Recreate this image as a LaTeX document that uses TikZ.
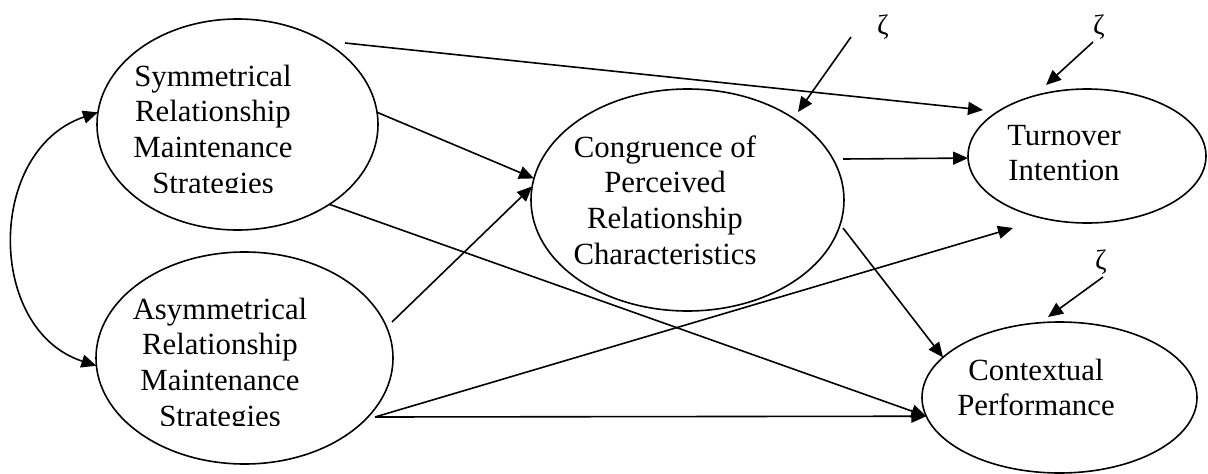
\documentclass[tikz,border=0pt]{standalone}
\usepackage{fontspec}
\setmainfont{Liberation Serif}
\usetikzlibrary{shapes.geometric,arrows.meta}
\begin{document}
\begin{tikzpicture}[x=1pt,y=-1pt,
  every node/.style={inner sep=0pt, outer sep=0pt},
  lv/.style={ellipse, draw, line width=1.6pt},
  txt/.style={font=\fontsize{30.8}{35.8}\selectfont, anchor=base},
  zeta/.style={font=\fontsize{28}{30}\selectfont},
  tip/.tip={Triangle[length=15pt,width=13pt]},
  arr/.style={line width=1.6pt, -tip},
  bi/.style={line width=1.6pt, tip-tip}]
\path[fill=white, use as bounding box] (0,0) rectangle (1208,474);

% latent variables
\node[lv, minimum width=281pt, minimum height=211pt] (sym) at (237.5,124.5) {};
\node[lv, minimum width=297pt, minimum height=212pt] (asym) at (244.5,358) {};
\node[lv, minimum width=313pt, minimum height=222pt] (cong) at (687.5,200) {};
\node[lv, minimum width=238pt, minimum height=134pt] (tur) at (1087,156) {};
\node[lv, minimum width=275pt, minimum height=151pt] (ctx) at (1059.5,397.5) {};

% labels
\begin{scope}
\clip (100,30) rectangle (340,192);
\node[txt] (symtxt) at (213,86) {\begin{tabular}[t]{@{}c@{}}Symmetrical\\Relationship\\Maintenance\\Strategies\end{tabular}};
\end{scope}
\begin{scope}
\clip (100,270) rectangle (390,425);
\node[txt] (asymtxt) at (220,319) {\begin{tabular}[t]{@{}c@{}}Asymmetrical\\Relationship\\Maintenance\\Strategies\end{tabular}};
\end{scope}
\node[txt] (congtxt) at (665,157) {\begin{tabular}[t]{@{}c@{}}Congruence of\\Perceived\\Relationship\\Characteristics\end{tabular}};
\node[txt] (turtxt) at (1064,145) {\begin{tabular}[t]{@{}c@{}}Turnover\\Intention\end{tabular}};
\node[txt] (ctxtxt) at (1036,380) {\begin{tabular}[t]{@{}c@{}}Contextual\\Performance\end{tabular}};

% disturbances
\node[zeta] (z1) at (883,27) {ζ};
\node[zeta] (z2) at (1099,27) {ζ};
\node[zeta] (z3) at (1101,262) {ζ};

% free connector ends
\coordinate (sT) at (345,43);
\coordinate (tW) at (983,110);
\coordinate (aC) at (392,322);
\coordinate (aR) at (375,417);
\coordinate (cT) at (843,159);
\coordinate (cC) at (843,228);
\coordinate (tS) at (1013,228);
\coordinate (z1s) at (851,37);
\coordinate (z1e) at (798,112);
\coordinate (z2s) at (1093,42);
\coordinate (z2e) at (1046,85);
\coordinate (z3s) at (1103,277);
\coordinate (z3e) at (1048,317);

% paths
\draw[arr] (sT) -- (tW);
\draw[arr] (sym.5) -- (cong.172);
\draw[arr] (sym.319) -- (ctx.188);
\draw[arr] (aC) -- (cong.175);
\draw[arr] (aR) -- (tS);
\draw[arr] (aR) -- (ctx.188);
\draw[arr] (cT) -- (tur.181);
\draw[arr] (cC) -- (ctx.161);
\draw[arr] (z1s) -- (z1e);
\draw[arr] (z2s) -- (z2e);
\draw[arr] (z3s) -- (z3e);
\draw[bi] (sym.175) .. controls (-14,150) and (-14,330) .. (asym.183);
\end{tikzpicture}
\end{document}
